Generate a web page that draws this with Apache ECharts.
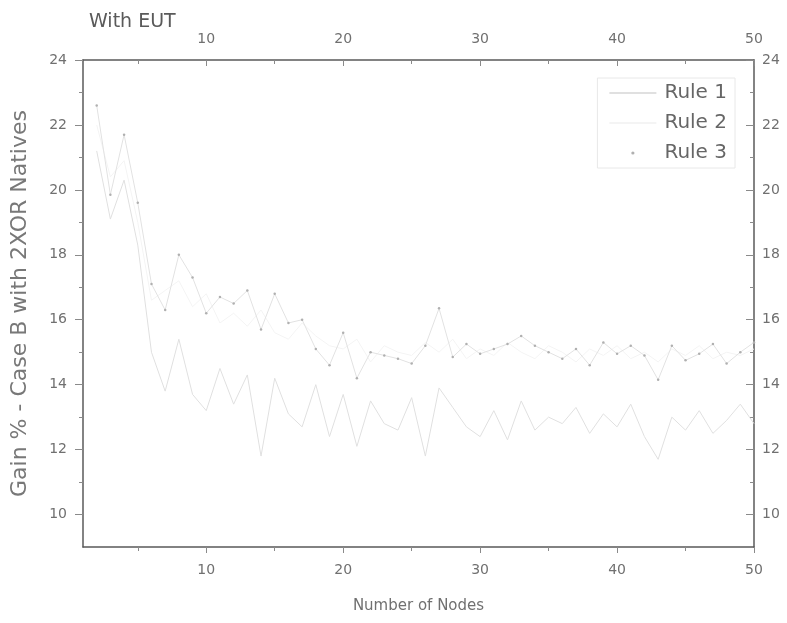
<!DOCTYPE html>
<html>
<head>
    <meta charset="utf-8" />
    <script src="https://cdn.jsdelivr.net/npm/echarts@6/dist/echarts.min.js"></script>
    <title></title>
    <style>
        body { margin: 0; background: #fff; }
    </style>
</head>
<body>
    <div id="main" style="width: 787px;height:623px;"></div>

    <script type="text/javascript">

        var nodes = [2, 3, 4, 5, 6, 7, 8, 9, 10, 11, 12, 13, 14, 15, 16, 17, 18, 19, 20, 21, 22, 23, 24, 25, 26,
            27, 28, 29, 30, 31, 32, 33, 34, 35, 36, 37, 38, 39, 40, 41, 42, 43, 44, 45, 46, 47, 48, 49, 50];

        var rule1 = [21.2, 19.1, 20.3, 18.3, 15.0, 13.8, 15.4, 13.7, 13.2, 14.5, 13.4, 14.3, 11.8, 14.2, 13.1, 12.7,
            14.0, 12.4, 13.7, 12.1, 13.5, 12.8, 12.6, 13.6, 11.8, 13.9, 13.3, 12.7, 12.4, 13.2, 12.3, 13.5,
            12.6, 13.0, 12.8, 13.3, 12.5, 13.1, 12.7, 13.4, 12.4, 11.7, 13.0, 12.6, 13.2, 12.5, 12.9, 13.4, 12.8];

        var rule2 = [22.0, 20.4, 20.9, 19.0, 16.6, 16.9, 17.2, 16.4, 16.8, 15.9, 16.2, 15.8, 16.3, 15.6, 15.4, 15.9,
            15.5, 15.2, 15.1, 15.4, 14.7, 15.2, 15.0, 14.9, 15.3, 15.0, 15.4, 14.8, 15.1, 14.9, 15.3, 15.0,
            14.8, 15.2, 15.0, 14.7, 15.1, 14.9, 15.2, 14.8, 15.0, 14.7, 15.1, 14.9, 15.2, 14.8, 15.0, 14.9, 15.1];

        var rule3 = [22.6, 19.85, 21.7, 19.6, 17.1, 16.3, 18.0, 17.3, 16.2, 16.7, 16.5, 16.9, 15.7, 16.8, 15.9, 16.0,
            15.1, 14.6, 15.6, 14.2, 15.0, 14.9, 14.8, 14.65, 15.2, 16.35, 14.85, 15.25, 14.95, 15.1, 15.25, 15.5,
            15.2, 15.0, 14.8, 15.1, 14.6, 15.3, 14.95, 15.2, 14.9, 14.15, 15.2, 14.75, 14.95, 15.25, 14.65, 15.0, 15.3];

        var xTicks = [10, 20, 30, 40, 50];
        var xMinor = [5, 15, 25, 35, 45];
        var yTicks = [10, 12, 14, 16, 18, 20, 22, 24];
        var yMinor = [11, 13, 15, 17, 19, 21, 23];

        function pairs(vals) {
            var out = [];
            for (var i = 0; i < nodes.length; i++) {
                out.push([nodes[i], vals[i]]);
            }
            return out;
        }

        var font = 'DejaVu Sans';
        var axisColor = '#5a5a5a';
        var labelColor = '#707070';

        function xAx(pos, major, inside) {
            return {
                type: 'value', min: 1, max: 50, position: pos,
                axisLine: { show: major, onZero: false, lineStyle: { color: axisColor, width: 1.5 } },
                axisTick: { show: true, inside: inside, length: major ? 6 : 4, customValues: major ? xTicks : xMinor,
                    lineStyle: { color: '#8a8a8a' } },
                axisLabel: { show: major, customValues: xTicks, color: labelColor, fontSize: 14, fontFamily: font,
                    margin: pos === 'bottom' ? 16 : 14 },
                splitLine: { show: false }
            };
        }

        function yAx(pos, major, inside) {
            return {
                type: 'value', min: 9, max: 24, position: pos,
                axisLine: { show: major, onZero: false, lineStyle: { color: axisColor, width: 1.5 } },
                axisTick: { show: true, inside: inside, length: major ? 8 : 4, customValues: major ? yTicks : yMinor,
                    lineStyle: { color: '#8a8a8a' } },
                axisLabel: { show: major, customValues: yTicks, color: labelColor, fontSize: 14, fontFamily: font,
                    margin: pos === 'left' ? 16 : 8 },
                splitLine: { show: false }
            };
        }

        var xBottom = xAx('bottom', true, false);
        xBottom.name = 'Number of Nodes';
        xBottom.nameLocation = 'middle';
        xBottom.nameGap = 52;
        xBottom.nameTextStyle = { color: labelColor, fontSize: 15, fontFamily: font };

        var yLeft = yAx('left', true, false);
        yLeft.name = 'Gain % - Case B with 2XOR Natives';
        yLeft.nameLocation = 'middle';
        yLeft.nameGap = 52;
        yLeft.nameTextStyle = { color: '#787878', fontSize: 22, fontFamily: font };

        var myChart = echarts.init(document.getElementById('main'));

        myChart.setOption({
            animation: false,
            title: {
                text: 'With EUT', left: 84, top: 8,
                textStyle: { color: '#5a5a5a', fontSize: 19, fontWeight: 'normal', fontFamily: font }
            },
            legend: {
                orient: 'vertical', right: 52, top: 78,
                backgroundColor: '#fff',
                borderColor: '#e8e8e8', borderWidth: 1,
                padding: [5, 8, 5, 11],
                itemWidth: 47, itemHeight: 4, itemGap: 10,
                textStyle: { color: '#666', fontSize: 20, fontFamily: font, padding: [0, 0, 0, 3] },
                data: [
                    { name: 'Rule 1', itemStyle: { opacity: 0 } },
                    { name: 'Rule 2', itemStyle: { opacity: 0 } },
                    { name: 'Rule 3', lineStyle: { opacity: 0 } }
                ]
            },
            grid: { left: 83, right: 33, top: 60, bottom: 76 },
            xAxis: [xBottom, xAx('bottom', false, false), xAx('top', true, true), xAx('top', false, true)],
            yAxis: [yLeft, yAx('left', false, false), yAx('right', true, true), yAx('right', false, true)],
            series: [
                {
                    name: 'Rule 1', type: 'line', data: pairs(rule1), symbol: 'none',
                    lineStyle: { color: '#e0e0e0', width: 1 }, itemStyle: { color: '#cfcfcf' }
                },
                {
                    name: 'Rule 2', type: 'line', data: pairs(rule2), symbol: 'none',
                    lineStyle: { color: '#f4f4f4', width: 1 }, itemStyle: { color: '#f4f4f4' }
                },
                {
                    name: 'Rule 3', type: 'line', data: pairs(rule3), symbol: 'circle', symbolSize: 2.5,
                    lineStyle: { color: '#e2e2e2', width: 1 }, itemStyle: { color: '#b0b0b0' }
                }
            ]
        });

    </script>

</body>
</html>
